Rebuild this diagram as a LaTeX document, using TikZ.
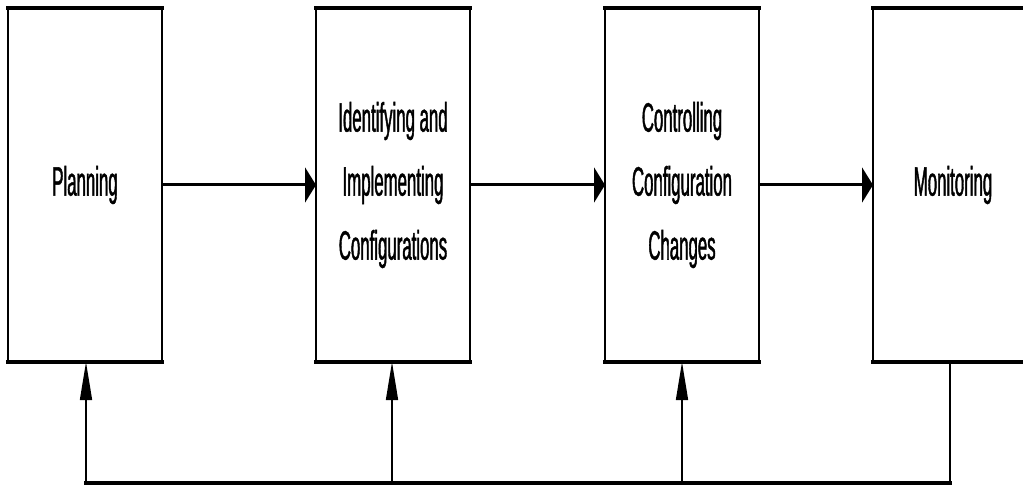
\documentclass[tikz,border=0pt]{standalone}
\usepackage{fontspec}
\newfontfamily\condfont[FakeStretch=0.41,FakeBold=1]{Liberation Sans}
\usetikzlibrary{arrows.meta}
\begin{document}
\begin{tikzpicture}[x=0.5pt,y=-0.5pt,
  stagebox/.style={draw=black, line width=0.9pt, outer sep=0pt, inner sep=0pt,
    minimum width=77pt, minimum height=177pt, align=center,
    font=\condfont\fontsize{20.5pt}{32pt}\selectfont},
  hline/.style={line width=1.6pt, line cap=rect},
  vline/.style={line width=0.8pt},
  harrow/.style={line width=1.5pt, -{Triangle[length=5.5pt,width=17.5pt]}},
  varrow/.style={line width=0.8pt, -{Triangle[length=19pt,width=6pt]}}
]
\clip (0,0) rectangle (1023,486);
\fill[white] (0,0) rectangle (1023,486);

\node[stagebox] (plan) at (85,185) {Planning};
\node[stagebox] (ident) at (393,185) {Identifying and\\Implementing\\Configurations};
\node[stagebox] (ctrl) at (682,185) {Controlling\\Configuration\\Changes};
\node[stagebox, minimum width=80pt] (mon) at (953,185) {Monitoring};

% thicker horizontal borders
\foreach \b in {plan,ident,ctrl,mon}{
  \draw[hline] (\b.north west) -- (\b.north east);
  \draw[hline] (\b.south west) -- (\b.south east);
}

% forward arrows
\draw[harrow] (plan.east) -- (ident.west);
\draw[harrow] (ident.east) -- (ctrl.west);
\draw[harrow] (ctrl.east) -- (mon.west);

% feedback loop
\coordinate (fbm) at (950,483);
\coordinate (fbp) at (86,483);
\coordinate (fbi) at (392,483);
\coordinate (fbc) at (682,483);
\draw[vline] (mon.south -| fbm) -- (fbm);
\draw[hline] (fbm) -- (fbp);
\draw[varrow] (fbp) -- (plan.south -| fbp);
\draw[varrow] (fbi) -- (ident.south -| fbi);
\draw[varrow] (fbc) -- (ctrl.south -| fbc);
\end{tikzpicture}
\end{document}
